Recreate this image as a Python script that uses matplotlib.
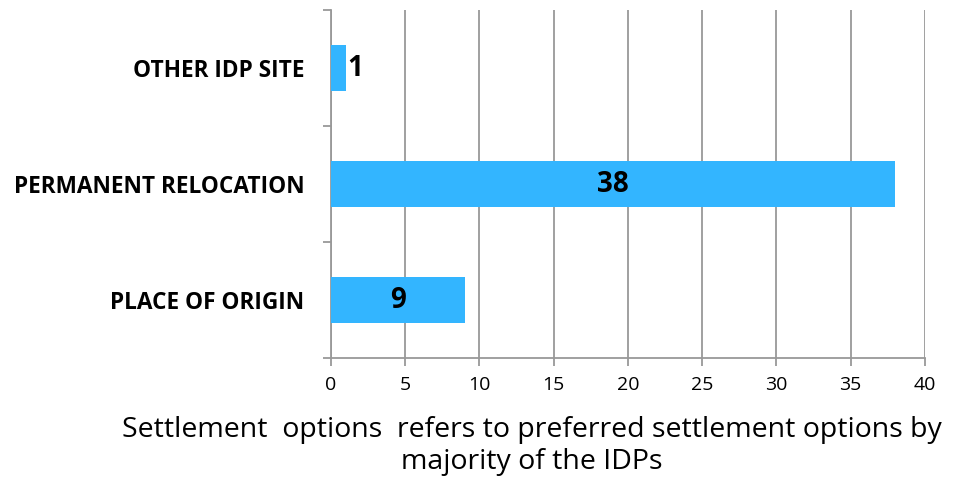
import matplotlib.pyplot as plt
from matplotlib.ticker import FixedLocator

categories = ["PLACE OF ORIGIN", "PERMANENT RELOCATION", "OTHER IDP SITE"]
values = [9, 38, 1]
x_ticks = [0, 5, 10, 15, 20, 25, 30, 35, 40]

plt.rcParams['font.family'] = ['Open Sans', 'DejaVu Sans']

fig = plt.figure(figsize=(9.61, 4.78), dpi=100)
ax = fig.add_axes([0.3444, 0.251, 0.618, 0.728])

pos = list(range(len(categories)))
ax.barh(pos, values, height=0.39, color='#33B5FF', zorder=3)

for p, v in zip(pos, values):
    if v < 3:
        ax.text(v + 0.1, p, str(v), ha='left', va='center',
                fontsize=20, fontweight='bold', zorder=4)
    else:
        ax.text(v / 2, p, str(v), ha='center', va='center',
                fontsize=20, fontweight='bold', zorder=4)

ax.set_xlim(0, 40)
ax.set_ylim(-0.5, 2.5)
ax.set_xticks(x_ticks)
ax.set_xticklabels([str(t) for t in x_ticks], fontsize=14)
ax.set_yticks(pos)
ax.set_yticklabels(categories, fontsize=16.3, fontweight='bold')
ax.yaxis.set_minor_locator(FixedLocator([-0.5, 0.5, 1.5, 2.5]))
ax.tick_params(axis='y', which='major', length=0, pad=19)
ax.tick_params(axis='y', which='minor', length=6, color='#999999', width=1.3)
ax.tick_params(axis='x', length=6, color='#999999', width=1.3, pad=7)

ax.grid(axis='x', color='#999999', linewidth=1.3, zorder=0)
for s in ['top', 'right']:
    ax.spines[s].set_visible(False)
for s in ['left', 'bottom']:
    ax.spines[s].set_color('#999999')
    ax.spines[s].set_linewidth(1.3)

fig.text(0.553, 0.067,
         "Settlement  options  refers to preferred settlement options by\nmajority of the IDPs",
         ha='center', va='center', fontsize=20.5, linespacing=1.15)

fig.savefig('out.png', dpi=100)
